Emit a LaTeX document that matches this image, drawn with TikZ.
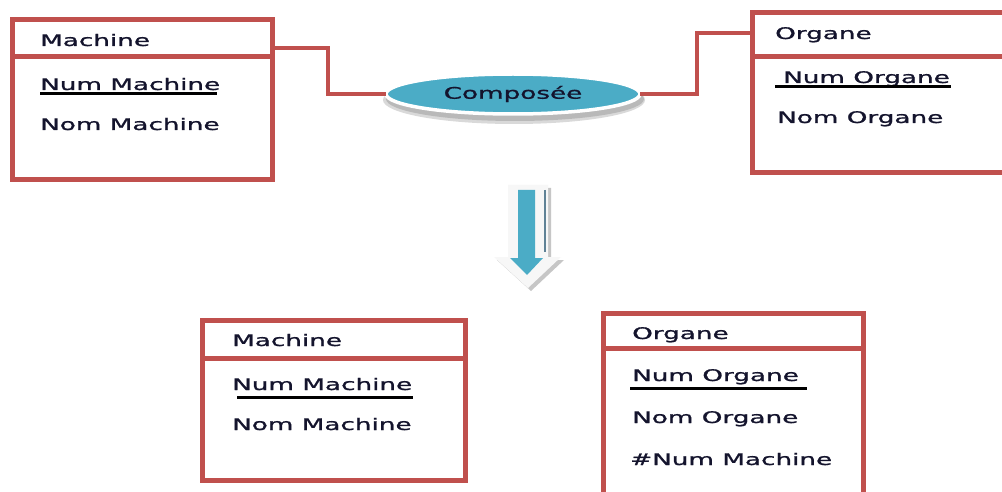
\documentclass[tikz,border=0pt]{standalone}
\usepackage{fontspec}
\setmainfont{DejaVu Sans}
\newfontfamily\lblfont[FakeBold=0.9]{DejaVu Sans}
\usepackage{graphicx}
\usetikzlibrary{shapes.geometric}
\definecolor{boxred}{RGB}{192,80,77}
\definecolor{relblue}{RGB}{75,172,198}
\definecolor{ink}{RGB}{20,20,45}
\definecolor{arrowedge}{RGB}{96,130,150}
% widened lettering used for every label
\newcommand{\wtxt}[1]{\scalebox{1.64}[1]{#1}}
\tikzset{
  entity/.style={draw=boxred, line width=5pt, rectangle, inner sep=0pt, outer sep=0pt, fill=white},
  divider/.style={draw=boxred, line width=5pt},
  link/.style={draw=boxred, line width=4pt},
  attr/.style={anchor=base west, inner sep=0pt, text=ink, font=\lblfont\fontsize{16}{19}\selectfont},
  keyline/.style={draw=black, line width=3pt},
  relation/.style={ellipse, fill=relblue, draw=white, line width=3.5pt, inner sep=0pt, outer sep=0pt,
    text=ink, font=\lblfont\fontsize{16}{19}\selectfont},
}
\begin{document}
\begin{tikzpicture}[x=1pt,y=-1pt]
\clip (0,0) rectangle (1002,492);
\fill[white] (0,0) rectangle (1002,492);

% ---------- conceptual model ----------
\node[entity, minimum width=260pt, minimum height=160pt] (m1) at (142,100) {};
\draw[divider] ([yshift=-37pt]m1.north west) -- ([yshift=-37pt]m1.north east);
\node[attr] (m1t) at (40,46)  {\wtxt{Machine}};
\node[attr] (m1k) at (40,90)  {\wtxt{Num Machine}};
\node[attr] (m1a) at (40,130) {\wtxt{Nom Machine}};
\draw[keyline] (40,94) -- (217,94);

\node[entity, minimum width=268pt, minimum height=160pt] (o1) at (886,93) {};
\draw[divider] ([yshift=-44pt]o1.north west) -- ([yshift=-44pt]o1.north east);
\node[attr] (o1t) at (775,39)  {\wtxt{Organe}};
\node[attr] (o1k) at (783,83)  {\wtxt{Num Organe}};
\node[attr] (o1a) at (777,123) {\wtxt{Nom Organe}};
\draw[keyline] (775,87) -- (951,87);

% relation with its shadow
\fill[gray!30] (514,100) ellipse [x radius=131pt, y radius=24pt];
\fill[gray!55] (515,99) ellipse [x radius=129pt, y radius=22pt];
\node[relation, minimum width=254pt, minimum height=40pt] (comp) at (513,94) {\wtxt{Composée}};

\coordinate (j1) at (328,48);
\coordinate (j2) at (697,33);
\draw[link] (m1.east |- j1) -- (j1) |- (comp.west);
\draw[link] (comp.east) -| (j2) -- (o1.west |- j2);

% ---------- transformation arrow ----------
\fill[gray!45] (511,188) -- (551,188) -- (551,260) -- (564,260) -- (531,291) -- (497,260) -- (511,260) -- cycle;
\fill[gray!6] (508,185) -- (548,185) -- (548,257) -- (561,257) -- (528,288) -- (494,257) -- (508,257) -- cycle;
\fill[relblue] (518,190) -- (535,190) -- (535,258) -- (543,258) -- (527,275) -- (510,258) -- (518,258) -- cycle;
\draw[arrowedge, line width=2pt] (545,190) -- (545,252);

% ---------- logical model ----------
\node[entity, minimum width=263pt, minimum height=160pt] (m2) at (333.5,400) {};
\draw[divider] ([yshift=-38pt]m2.north west) -- ([yshift=-38pt]m2.north east);
\node[attr] (m2t) at (232,346) {\wtxt{Machine}};
\node[attr] (m2k) at (232,390) {\wtxt{Num Machine}};
\node[attr] (m2a) at (232,430) {\wtxt{Nom Machine}};
\draw[keyline] (237,397) -- (413,397);

\node[entity, minimum width=260pt, minimum height=207pt] (o2) at (733,416.5) {};
\draw[divider] ([yshift=-35pt]o2.north west) -- ([yshift=-35pt]o2.north east);
\node[attr] (o2t) at (632,339) {\wtxt{Organe}};
\node[attr] (o2k) at (632,381) {\wtxt{Num Organe}};
\node[attr] (o2a) at (632,423) {\wtxt{Nom Organe}};
\node[attr] (o2f) at (630,465) {\wtxt{\#Num Machine}};
\draw[keyline] (630,388) -- (807,388);
\end{tikzpicture}
\end{document}
